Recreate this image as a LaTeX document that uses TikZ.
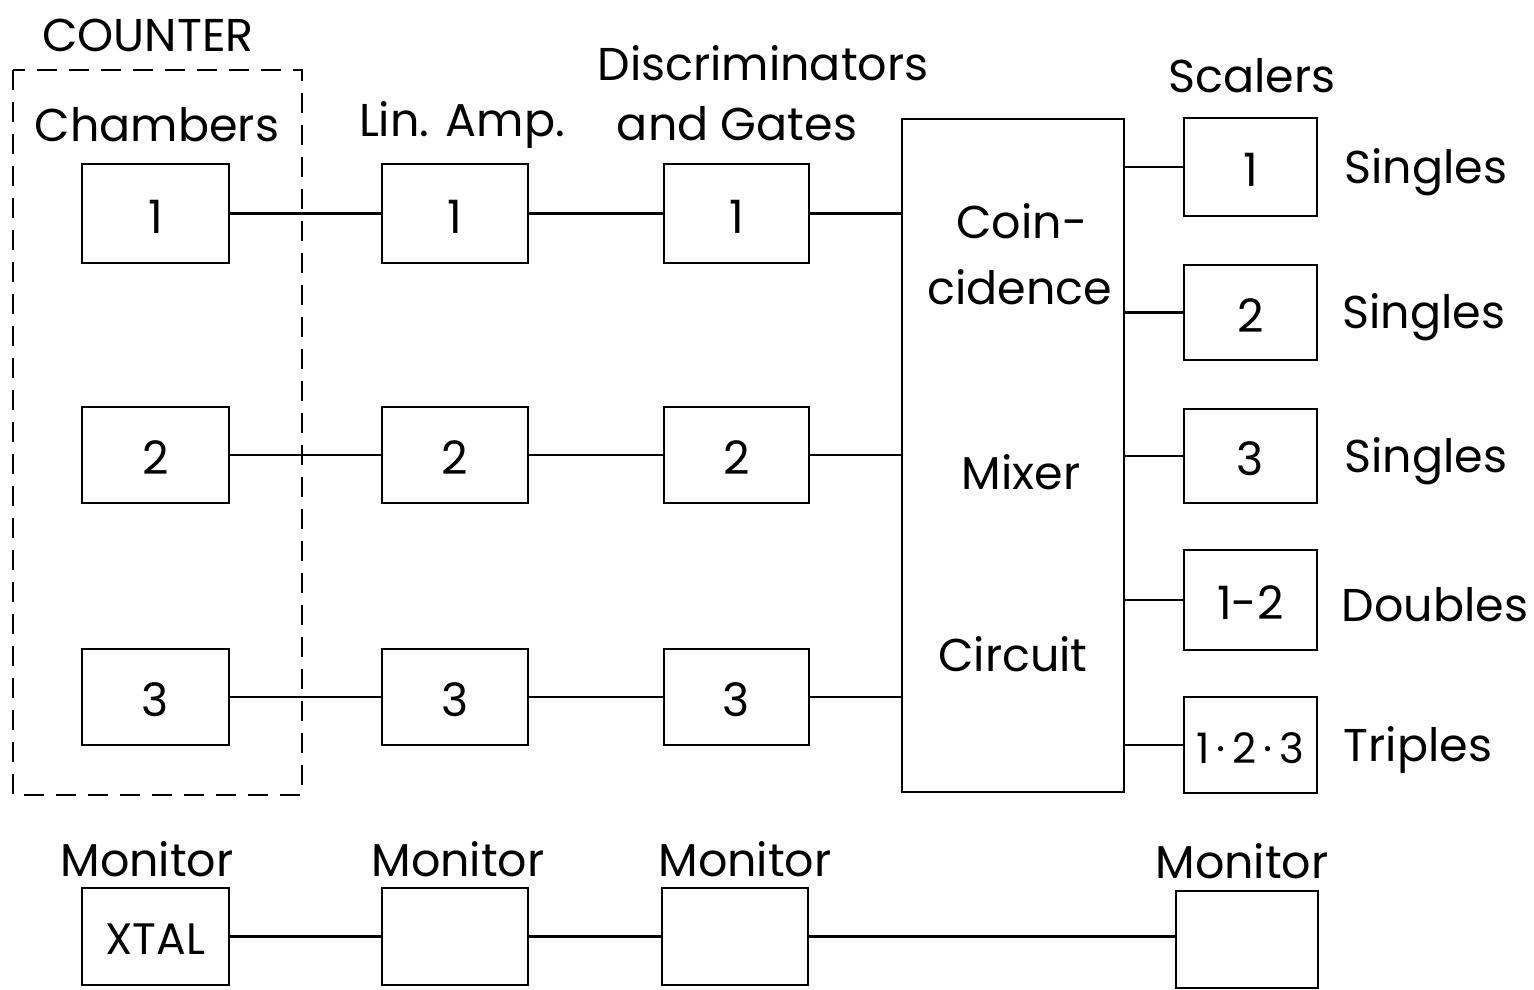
\documentclass[tikz,border=0pt]{standalone}
\usepackage{fontspec}
\setmainfont{Poppins}
\begin{document}
\begin{tikzpicture}[x=1pt,y=-1pt,line width=2.6pt,
  bx/.style={draw,inner sep=0pt},
  lbl/.style={font=\fontsize{46}{50}\selectfont,inner sep=0pt,anchor=center,yshift=-3pt}]
\useasboundingbox (0,0) rectangle (1534,989);
% dashed counter box
\draw[dashed,dash pattern=on 20pt off 12pt] (13,70) rectangle (302,795);
\node[lbl] (tcounter) at (148,32) {COUNTER};
\node[lbl] (tchamb) at (157,122) {Chambers};
\node[lbl] (tlin) at (462,122) {Lin. Amp.};
\node[lbl] (tdisc) at (763,60) {Discriminators};
\node[lbl] (tgates) at (737,121) {and Gates};
\node[lbl] (tscal) at (1252,73) {Scalers};
% rows
\foreach \i/\ya/\yb in {1/164/263,2/407/503,3/649/745}{
  \node[bx,minimum width=147pt,minimum height={\yb-\ya}] (c\i) at (155.5,{(\ya+\yb)/2}) {};
  \node[lbl] at (c\i) {\i};
  \node[bx,minimum width=146pt,minimum height={\yb-\ya}] (l\i) at (455,{(\ya+\yb)/2}) {};
  \node[lbl] at (l\i) {\i};
  \node[bx,minimum width=145pt,minimum height={\yb-\ya}] (d\i) at (736.5,{(\ya+\yb)/2}) {};
  \node[lbl] at (d\i) {\i};
}
\node[bx,minimum width=222pt,minimum height=673pt] (coin) at (1013,455.5) {};
\node[lbl] (tcoin) at (1022,218) {Coin-};
\node[lbl] (tcid) at (1020,284) {cidence};
\node[lbl] (tmix) at (1021,469) {Mixer};
\node[lbl] (tcirc) at (1013,651) {Circuit};
\foreach \i in {1,2,3}{
  \draw (c\i) -- (l\i);
  \draw (l\i) -- (d\i);
  \draw (d\i.east) -- (d\i.east -| coin.west);
}
% scalers
\foreach \n/\ya/\yb/\t/\lab/\lx in {s1/118/216/1/Singles/1426,s2/265/360/2/Singles/1424,s3/409/503/3/Singles/1426,s4/550/650/{1-2}/Doubles/1435,s5/697/793/{}/Triples/1418}{
  \node[bx,minimum width=133pt,minimum height={\yb-\ya}] (\n) at (1250.5,{(\ya+\yb)/2}) {};
  \node[lbl] at (\n) {\t};
  \node[lbl] at (\lx,{(\ya+\yb)/2+2}) {\lab};
  \draw (\n.west) -- (\n.west -| coin.east);
}
\node[lbl,font=\fontsize{42}{46}\selectfont] at (s5) {1\,·\,2\,·\,3};
% monitor row
\node[lbl] (m1t) at (147,856) {Monitor};
\node[lbl] (m2t) at (458,856) {Monitor};
\node[lbl] (m3t) at (745,856) {Monitor};
\node[lbl] (m4t) at (1242,858) {Monitor};
\node[bx,minimum width=147pt,minimum height=97pt] (m1) at (155.5,936.5) {};
\node[lbl,font=\fontsize{44}{48}\selectfont] at (m1) {XTAL};
\node[bx,minimum width=146pt,minimum height=97pt] (m2) at (455,936.5) {};
\node[bx,minimum width=146pt,minimum height=97pt] (m3) at (735,936.5) {};
\node[bx,minimum width=142pt,minimum height=97pt] (m4) at (1247,939.5) {};
\draw (m1) -- (m2);
\draw (m2) -- (m3);
\draw (m3.east) -- (m3.east -| m4.west);
\end{tikzpicture}
\end{document}
